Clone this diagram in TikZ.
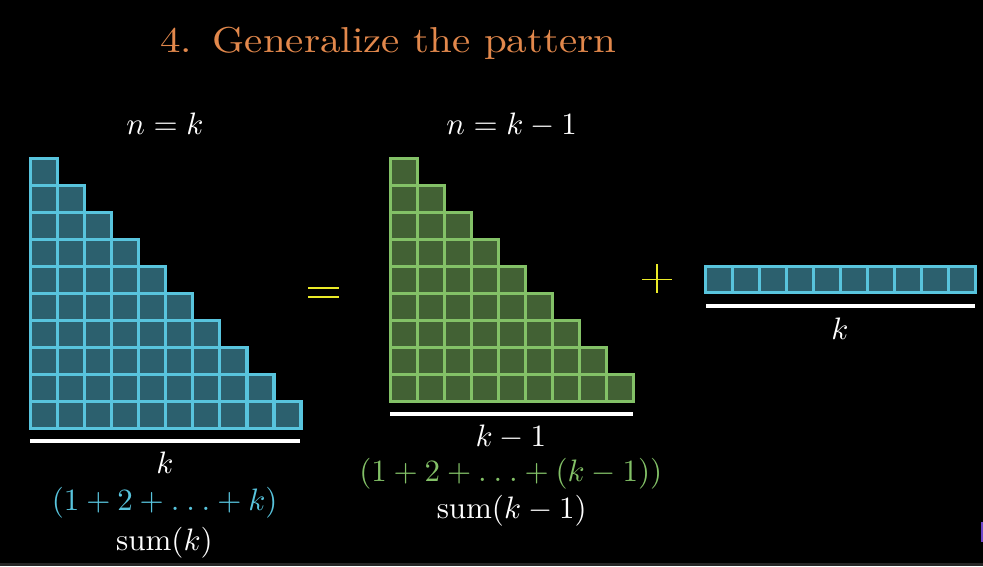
\documentclass[tikz,border=0pt]{standalone}
\usepackage{amsmath}
\definecolor{bgc}{RGB}{0,0,0}
\definecolor{bluec}{RGB}{88,196,221}
\definecolor{bluefill}{RGB}{44,96,110}
\definecolor{greenc}{RGB}{131,193,103}
\definecolor{greenfill}{RGB}{66,97,52}
\definecolor{titlec}{RGB}{226,136,76}
\definecolor{yel}{RGB}{235,235,40}
\definecolor{stripc}{RGB}{38,38,38}
\definecolor{purp}{RGB}{110,70,200}
\newcommand{\wdots}{\mathinner{.\mkern4mu.\mkern4mu.}}
\tikzset{
  bluecell/.style={draw=bluec,fill=bluefill,line width=3.2pt},
  greencell/.style={draw=greenc,fill=greenfill,line width=3.2pt},
  baseline/.style={draw=white,line width=4pt},
  mathlbl/.style={text=white,inner sep=0pt,anchor=base,scale=3.1},
  titlelbl/.style={text=titlec,inner sep=0pt,anchor=base west,xscale=4.1,yscale=3.6},
  opsign/.style={draw=yel,line width=2pt}
}
\begin{document}
\begin{tikzpicture}[x=1pt,y=-1pt]
\fill[bgc] (0,0) rectangle (983,566);
\useasboundingbox (0,0) rectangle (983,566);
\fill[stripc] (0,563) rectangle (983,566);
\fill[purp] (981,522) rectangle (983,542);
% title
\node[titlelbl] (title) at (159.5,52) {4.\hspace{0.5em}Generalize the pattern};
% labels top
\node[mathlbl] (nk) at (165,134.3) {$n = k$};
\node[mathlbl] (nk1) at (511.6,134.3) {$n = k - 1$};
% blue triangle
\foreach \r in {0,...,9}{
  \foreach \c in {0,...,\r}{
    \draw[bluecell] (30.5+\c*27.05,158.2+\r*27.05) rectangle ++(27.05,27.05);
  }
}
% green triangle
\foreach \r in {0,...,8}{
  \foreach \c in {0,...,\r}{
    \draw[greencell] (390.3+\c*27.05,158.2+\r*27.05) rectangle ++(27.05,27.05);
  }
}
% row
\foreach \c in {0,...,9}{
  \draw[bluecell] (705.6+\c*27.0,266.3) rectangle ++(27.0,26.4);
}
% underlines
\coordinate (b1) at (30,441);
\coordinate (b2) at (300,441);
\coordinate (g1) at (390,414.3);
\coordinate (g2) at (633,414.3);
\coordinate (r1) at (706,306);
\coordinate (r2) at (975.3,306);
\draw[baseline] (b1) -- (b2);
\draw[baseline] (g1) -- (g2);
\draw[baseline] (r1) -- (r2);
% equals and plus
\coordinate (e1) at (308.3,288.3);
\coordinate (e2) at (339,288.3);
\coordinate (e3) at (308.3,297.3);
\coordinate (e4) at (339,297.3);
\draw[opsign] (e1) -- (e2);
\draw[opsign] (e3) -- (e4);
\coordinate (p1) at (642.3,279.3);
\coordinate (p2) at (671.7,279.3);
\coordinate (p3) at (657,264);
\coordinate (p4) at (657,293.3);
\draw[opsign,line width=1.6pt] (p1) -- (p2);
\draw[opsign,line width=1.6pt] (p3) -- (p4);
% bottom labels blue
\node[mathlbl] (bk) at (165,473.3) {$k$};
\node[mathlbl,text=bluec] (bsum) at (164.7,510) {$(1 + 2 + \wdots + k)$};
\node[mathlbl] (bs) at (164.5,550) {$\mathrm{sum}(k)$};
% bottom labels green
\node[mathlbl] (gk) at (510.8,446.7) {$k - 1$};
\node[mathlbl,text=greenc] (gsum) at (510.8,481.7) {$(1 + 2 + \wdots + (k - 1))$};
\node[mathlbl] (gs) at (511.7,518.3) {$\mathrm{sum}(k - 1)$};
% row label
\node[mathlbl] (rk) at (840,339) {$k$};
\end{tikzpicture}
\end{document}
